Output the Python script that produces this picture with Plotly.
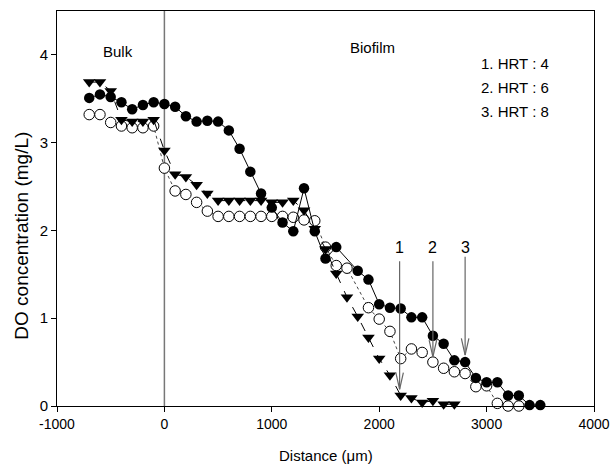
import plotly.graph_objects as go

# HRT 8 (filled circles)
dist_hrt8 = [-700, -600, -500, -400, -300, -200, -100, 0, 100, 200, 300, 400, 500, 600, 700, 800,
             900, 1000, 1100, 1200, 1300, 1400, 1500, 1600, 1800, 1900, 2000, 2100, 2200, 2300, 2400,
             2500, 2600, 2700, 2800, 2900, 3000, 3100, 3200, 3300, 3400, 3500]
do_hrt8 = [3.51, 3.55, 3.52, 3.46, 3.38, 3.43, 3.46, 3.44, 3.41, 3.30, 3.24, 3.25, 3.24, 3.14, 2.93, 2.67,
           2.42, 2.26, 2.09, 1.99, 2.48, 1.99, 1.68, 1.81, 1.54, 1.44, 1.16, 1.12, 1.11, 1.01, 1.01,
           0.80, 0.71, 0.52, 0.50, 0.32, 0.27, 0.27, 0.12, 0.12, 0.01, 0.01]

# HRT 6 (open circles)
dist_hrt6 = [-700, -600, -500, -400, -300, -200, -100, 0, 100, 200, 300, 400, 500, 600, 700, 800,
             900, 1000, 1100, 1200, 1300, 1400, 1500, 1600, 1700, 1900, 2000, 2100, 2200, 2300, 2400,
             2500, 2600, 2700, 2800, 2900, 3000, 3100, 3200, 3300]
do_hrt6 = [3.32, 3.32, 3.23, 3.19, 3.17, 3.17, 3.19, 2.71, 2.45, 2.41, 2.32, 2.22, 2.16, 2.16, 2.16, 2.16,
           2.16, 2.16, 2.16, 2.15, 2.12, 2.11, 1.81, 1.60, 1.57, 1.12, 0.99, 0.85, 0.54, 0.65, 0.61,
           0.50, 0.43, 0.39, 0.37, 0.22, 0.23, 0.03, 0.00, 0.00]

# HRT 4 (filled down-triangles)
dist_hrt4 = [-700, -600, -500, -400, -300, -200, -100, 0, 100, 200, 300, 400, 500, 600, 700, 800,
             900, 1000, 1100, 1200, 1300, 1400, 1500, 1600, 1700, 1800, 1900, 2000, 2100, 2200, 2300,
             2400, 2500, 2600, 2700]
do_hrt4 = [3.69, 3.69, 3.59, 3.26, 3.24, 3.24, 3.26, 2.91, 2.64, 2.61, 2.52, 2.42, 2.34, 2.34, 2.34, 2.34,
           2.34, 2.32, 2.32, 2.34, 2.23, 2.02, 1.79, 1.51, 1.24, 1.02, 0.78, 0.54, 0.35, 0.12, 0.09,
           0.04, 0.06, 0.02, 0.02]

# arrows marking penetration depth
arrow_labels = ["1", "2", "3"]
arrow_x = [2190, 2500, 2800]
arrow_top = [1.65, 1.65, 1.70]
arrow_tip = [0.19, 0.56, 0.58]
arrow_label_y = 1.81

# text
legend_lines = ["1. HRT : 4", "2. HRT : 6", "3. HRT : 8"]
legend_y = [3.90, 3.63, 3.36]
x_ticks = [-1000, 0, 1000, 2000, 3000, 4000]
x_tick_labels = ["-1000", "0", "1000", "2000", "3000", "4000"]
y_ticks = [0, 1, 2, 3, 4]
y_tick_labels = ["0", "1", "2", "3", "4"]
x_title = "Distance (\u03bcm)"
y_title = "DO concentration (mg/L)"

FONT = "Liberation Sans, Arial, sans-serif"

fig = go.Figure()

fig.add_trace(go.Scatter(
    x=dist_hrt6, y=do_hrt6, mode="lines+markers", cliponaxis=False,
    line=dict(color="#444", width=1, dash="dot"),
    marker=dict(symbol="circle", size=10.5, color="white", line=dict(color="black", width=1)),
    showlegend=False))

fig.add_trace(go.Scatter(
    x=dist_hrt8, y=do_hrt8, mode="lines+markers", cliponaxis=False,
    line=dict(color="black", width=1),
    marker=dict(symbol="circle", size=10.5, color="black", line=dict(color="black", width=0)),
    showlegend=False))

fig.add_trace(go.Scatter(
    x=dist_hrt4, y=do_hrt4, mode="lines+markers", cliponaxis=False,
    line=dict(color="black", width=1, dash="dash"),
    marker=dict(symbol="triangle-down", size=11, color="black", line=dict(color="black", width=0)),
    showlegend=False))

# arrows
hw, hl = 35, 0.19
for lab, ax, top, tip in zip(arrow_labels, arrow_x, arrow_top, arrow_tip):
    fig.add_trace(go.Scatter(
        x=[ax, ax, None, ax - hw, ax, ax + hw],
        y=[top, tip, None, tip + hl, tip, tip + hl],
        mode="lines", line=dict(color="#666", width=1.2), hoverinfo="skip",
        showlegend=False, cliponaxis=False))
    fig.add_annotation(x=ax, y=arrow_label_y, text=lab, showarrow=False,
                       font=dict(family=FONT, size=16, color="black"))

fig.add_annotation(x=-430, y=4.04, text="Bulk", showarrow=False,
                   font=dict(family=FONT, size=15, color="black"))
fig.add_annotation(x=1940, y=4.08, text="Biofilm", showarrow=False,
                   font=dict(family=FONT, size=15, color="black"))
for txt, ly in zip(legend_lines, legend_y):
    fig.add_annotation(x=2930, y=ly, text=txt, showarrow=False, xanchor="left",
                       font=dict(family=FONT, size=15, color="black"))

# axis titles
fig.add_annotation(xref="paper", yref="paper", x=-0.066, y=0.43, text=y_title,
                   textangle=-90, showarrow=False, xanchor="center", yanchor="middle",
                   font=dict(family=FONT, size=19, color="black"))
fig.add_annotation(xref="paper", yref="paper", x=0.5, y=-0.125, text=x_title,
                   showarrow=False, xanchor="center", yanchor="middle",
                   font=dict(family=FONT, size=15, color="black"))

# vertical separator at x=0
fig.add_shape(type="line", xref="x", yref="paper", x0=0, x1=0, y0=0, y1=1,
              line=dict(color="#777", width=1.5), layer="below")

fig.update_xaxes(range=[-1000, 4000], tickvals=x_ticks, ticktext=x_tick_labels,
                 ticks="outside", ticklen=5, automargin=False,
                 tickcolor="black", showline=True, linecolor="black", linewidth=1,
                 mirror=True, showgrid=False, zeroline=False,
                 tickfont=dict(family=FONT, size=14, color="black"))
fig.update_yaxes(range=[0, 4.5], tickvals=y_ticks, ticktext=y_tick_labels,
                 ticks="outside", ticklen=5, automargin=False,
                 tickcolor="black", showline=True, linecolor="black", linewidth=1,
                 mirror=True, showgrid=False, zeroline=False,
                 tickfont=dict(family=FONT, size=15, color="black"))

fig.update_layout(width=611, height=470, plot_bgcolor="white", paper_bgcolor="white",
                  margin=dict(l=57, r=17, t=11, b=64), showlegend=False)

fig.write_html("out.html")
